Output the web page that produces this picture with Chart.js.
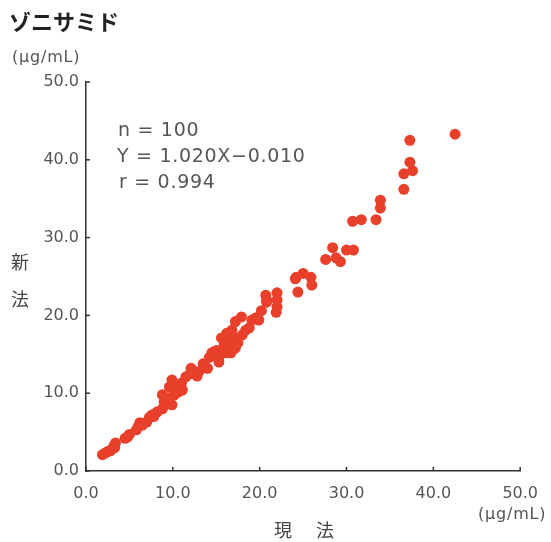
<!DOCTYPE html>
<html>
<head>
<meta charset="utf-8">
<script src="https://cdn.jsdelivr.net/npm/chart.js@4"></script>
<style>
  body { margin: 0; background: #fff; }
  #wrap { position: relative; width: 551px; height: 542px; }
</style>
</head>
<body>
<div id="wrap"><canvas id="chart" width="551" height="542"></canvas></div>
<script>
// 現法 (x) vs 新法 (y), µg/mL
const currentMethod = [
  1.9, 2.2, 2.5, 2.8, 3.0, 3.2, 3.4, 3.3, 4.8, 5.0,
  5.8, 6.0, 6.2, 6.5, 7.0, 7.3, 7.6, 8.0, 8.2, 8.8,
  9.0, 9.3, 9.6, 9.9, 9.6, 8.8, 9.6, 9.9, 10.7, 11.0,
  11.1, 10.5, 11.5, 12.1, 12.4, 12.8, 14.0, 14.5, 15.3, 15.3,
  14.7, 15.9, 16.1, 16.7, 16.7, 17.2, 15.6, 16.2, 16.4, 17.2,
  16.8, 17.2, 17.9, 18.4, 18.8, 19.1, 19.9, 19.6, 20.2, 20.8,
  20.7, 20.8, 21.9, 22.0, 22.0, 22.0, 16.0, 15.0, 13.5, 18.0,
  24.4, 24.1, 24.2, 25.0, 25.9, 26.0, 27.6, 28.4, 28.8, 29.3,
  30.0, 30.8, 30.7, 31.7, 33.4, 33.9, 33.9, 36.6, 36.6, 37.6,
  37.3, 37.3, 42.5, 4.5, 7.8, 10.2, 12.0, 13.0, 14.2, 17.5
];
const newMethod = [
  2.1, 2.3, 2.5, 2.6, 2.8, 3.2, 3.6, 3.0, 4.4, 4.7,
  5.3, 5.7, 6.2, 5.9, 6.3, 6.9, 7.2, 7.4, 7.6, 8.0,
  8.9, 8.6, 8.7, 8.5, 9.4, 9.8, 10.8, 11.7, 10.2, 11.3,
  10.4, 11.0, 12.1, 13.2, 12.6, 12.2, 13.2, 15.2, 14.7, 14.0,
  15.3, 16.2, 15.2, 15.2, 15.9, 15.8, 17.1, 17.7, 16.8, 17.1,
  18.1, 19.2, 19.8, 18.1, 18.4, 19.4, 19.4, 19.7, 20.6, 21.7,
  22.6, 22.0, 20.4, 21.1, 22.0, 22.9, 16.5, 15.5, 13.8, 17.5,
  23.0, 24.7, 24.9, 25.4, 24.9, 23.9, 27.2, 28.7, 27.4, 26.9,
  28.4, 28.4, 32.1, 32.3, 32.3, 33.8, 34.8, 36.2, 38.2, 38.6,
  39.7, 42.5, 43.3, 4.2, 7.0, 9.8, 12.5, 12.8, 14.6, 16.5
];
const tickValues = [0, 10, 20, 30, 40, 50];
const statsLines = ["n = 100", "Y = 1.020X\u22120.010", "r = 0.994"];

const textColor = "#555";
const latin = "'DejaVu Sans', sans-serif";
const cjk = "'Noto Sans CJK JP', sans-serif";

// small tick marks pointing into the plot
const innerTicks = {
  id: "innerTicks",
  afterDraw(chart) {
    const { ctx, chartArea, scales } = chart;
    ctx.save();
    ctx.strokeStyle = "#333";
    ctx.lineWidth = 1.5;
    tickValues.forEach(v => {
      const y = scales.y.getPixelForValue(v);
      ctx.beginPath();
      ctx.moveTo(chartArea.left, y);
      ctx.lineTo(chartArea.left + 4, y);
      ctx.stroke();
      const x = scales.x.getPixelForValue(v);
      ctx.beginPath();
      ctx.moveTo(x, chartArea.bottom);
      ctx.lineTo(x, chartArea.bottom - 4);
      ctx.stroke();
    });
    ctx.restore();
  }
};

// titles, unit labels, axis names, regression text
const labels = {
  id: "labels",
  afterDraw(chart) {
    const { ctx } = chart;
    ctx.save();
    ctx.textBaseline = "middle";
    ctx.textAlign = "left";

    ctx.fillStyle = "#222";
    ctx.font = "bold 22px " + cjk;
    ctx.fillText("ゾニサミド", 9, 22);

    ctx.fillStyle = textColor;
    ctx.font = "16px " + latin;
    ctx.letterSpacing = "0.8px";
    ctx.fillText("(\u03bcg/mL)", 12, 58);
    ctx.fillText("(\u03bcg/mL)", 478, 515);

    ctx.letterSpacing = "0.7px";
    ctx.font = "19px " + latin;
    ctx.fillText(statsLines[0], 118, 131);
    ctx.fillText(statsLines[1], 117, 157);
    ctx.fillText(statsLines[2], 119, 183);

    ctx.letterSpacing = "0px";
    ctx.textAlign = "center";
    ctx.font = "18px " + cjk;
    ctx.fillStyle = "#444";
    ctx.fillText("新", 20, 262);
    ctx.fillText("法", 20, 299);
    ctx.fillText("現", 283, 530);
    ctx.fillText("法", 325, 530);
    ctx.restore();
  }
};

const axisOpts = (padding) => ({
  type: "linear",
  min: 0,
  max: 50,
  afterBuildTicks: s => { s.ticks = tickValues.map(v => ({ value: v })); },
  grid: { display: true, drawOnChartArea: false, drawTicks: false },
  border: { display: true, color: "#333", width: 1.5 },
  ticks: {
    padding,
    color: textColor,
    font: { family: latin, size: 16 },
    callback: v => v.toFixed(1)
  }
});

const xAxis = axisOpts(13);
xAxis.afterFit = s => { s.height = 71; };
const yAxis = axisOpts(7);
yAxis.afterFit = s => { s.width = 86; };

new Chart(document.getElementById("chart"), {
  type: "scatter",
  data: {
    datasets: [{
      data: currentMethod.map((x, i) => ({ x, y: newMethod[i] })),
      backgroundColor: "#e9402b",
      borderWidth: 0,
      pointRadius: 5.5,
      pointHoverRadius: 5.5
    }]
  },
  options: {
    responsive: false,
    animation: false,
    layout: { padding: { top: 82, right: 27, left: 0, bottom: 0 } },
    plugins: { legend: { display: false }, tooltip: { enabled: false } },
    scales: { x: xAxis, y: yAxis }
  },
  plugins: [innerTicks, labels]
});
</script>
</body>
</html>
